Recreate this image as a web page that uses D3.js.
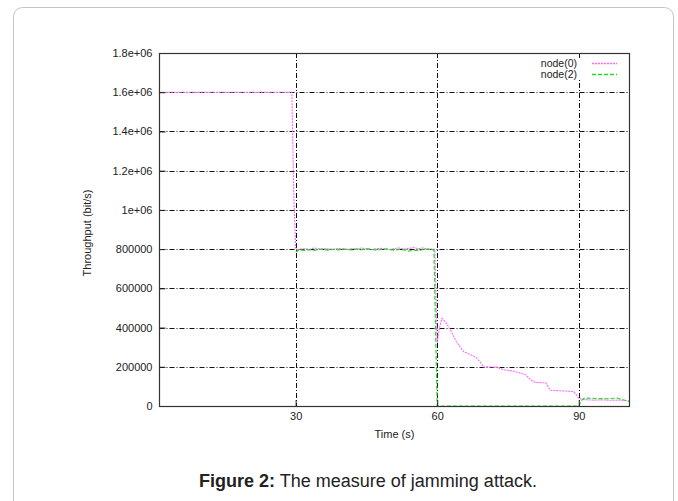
<!DOCTYPE html>
<html>
<head>
<meta charset="utf-8">
<script src="https://cdn.jsdelivr.net/npm/d3@7"></script>
<style>
  body { margin: 0; background: #fff; }
  svg { display: block; }
  text { font-family: "Liberation Sans", Arial, sans-serif; }
</style>
</head>
<body>
<svg id="chart" width="678" height="501"></svg>
<script>
// ---- data ----
const yTicks = [0, 200000, 400000, 600000, 800000, 1000000, 1200000, 1400000, 1600000, 1800000];
const yTickLabels = ["0", "200000", "400000", "600000", "800000", "1e+06", "1.2e+06", "1.4e+06", "1.6e+06", "1.8e+06"];
const xTicks = [30, 60, 90];
const seriesNames = ["node(0)", "node(2)"];

const node0Time = [1, 29.2, 29.6, 30, 30.5, 31, 32, 33, 34, 35, 36, 37, 38, 39, 40, 41, 42, 43, 44, 45, 46, 47, 48, 49, 50, 51, 52, 53, 54, 55, 56, 57, 58, 59, 59.5, 60, 60.5, 61, 62, 62.8, 64, 65.6, 67, 68.1, 69, 69.8, 72.7, 74, 76.2, 77, 78.7, 80, 80.8, 83, 84, 86, 89, 90, 91, 93, 95, 97, 99, 100.7];
const node0Value = [1600000, 1600000, 1085000, 805000, 798000, 800000, 802000, 799000, 806000, 800000, 803000, 801000, 799000, 804000, 800000, 798000, 803000, 801000, 806000, 800000, 797000, 802000, 804000, 800000, 798000, 803000, 806000, 800000, 804000, 808000, 802000, 806000, 800000, 801000, 798000, 321000, 400000, 447000, 420000, 388000, 330000, 277000, 262000, 250000, 228000, 200000, 198000, 185000, 178000, 172000, 160000, 130000, 120000, 118000, 80000, 78000, 73000, 39000, 33000, 30000, 31000, 29000, 30000, 25000];

const node2Time = [30, 30.5, 31, 32, 33, 34, 35, 36, 37, 38, 39, 40, 41, 42, 43, 44, 45, 46, 47, 48, 49, 50, 51, 52, 53, 54, 55, 56, 57, 58, 59, 59.3, 60, 90, 90.5, 91, 92, 94, 96, 98, 99, 100.7];
const node2Value = [785000, 792000, 795000, 793000, 797000, 794000, 800000, 797000, 795000, 799000, 796000, 801000, 798000, 796000, 800000, 797000, 802000, 799000, 795000, 798000, 801000, 797000, 794000, 799000, 796000, 790000, 795000, 792000, 798000, 800000, 797000, 795000, 0, 0, 25000, 38000, 40000, 38000, 37000, 40000, 35000, 22000];

// ---- layout ----
const svg = d3.select("#chart");
const pLeft = 159.5, pRight = 629.5, pTop = 53, pBottom = 406;

svg.append("rect").attr("width", 678).attr("height", 501).attr("fill", "#fff");
svg.append("rect")
  .attr("x", 13.5).attr("y", 7.5).attr("width", 660).attr("height", 540)
  .attr("rx", 9).attr("fill", "#fff").attr("stroke", "#c4c4c4").attr("stroke-width", 1);

const x = d3.scaleLinear().domain([1.15, 100.75]).range([pLeft, pRight]);
const y = d3.scaleLinear().domain([0, 1800000]).range([pBottom, pTop]);

const g = svg.append("g");

// grid lines (dash-dot)
const gridDash = "5,2,1,2";
g.selectAll(".hgrid").data(yTicks.slice(1, -1)).join("line")
  .attr("x1", pLeft).attr("x2", pRight)
  .attr("y1", d => Math.round(y(d)) + 0.5).attr("y2", d => Math.round(y(d)) + 0.5)
  .attr("stroke", "#111").attr("stroke-width", 1).attr("stroke-dasharray", gridDash);
g.selectAll(".vgrid").data(xTicks).join("line")
  .attr("y1", pTop).attr("y2", pBottom)
  .attr("x1", d => Math.round(x(d)) + 0.5).attr("x2", d => Math.round(x(d)) + 0.5)
  .attr("stroke", "#111").attr("stroke-width", 1).attr("stroke-dasharray", gridDash);

// series
const line = d3.line().x(d => x(d[0])).y(d => y(d[1]));
const d0 = node0Time.map((t, i) => [t, node0Value[i]]);
const d2 = node2Time.map((t, i) => [t, node2Value[i]]);

g.append("path").datum(d0).attr("d", line)
  .attr("fill", "none").attr("stroke", "#ff66ff").attr("stroke-width", 1.1)
  .attr("stroke-dasharray", "2,1");
g.append("path").datum(d2).attr("d", line)
  .attr("fill", "none").attr("stroke", "#22dd22").attr("stroke-width", 1.2)
  .attr("stroke-dasharray", "4,2");

// axes (inner ticks + labels) via d3 axes
const yAxis = d3.axisLeft(y).tickValues(yTicks).tickFormat((d, i) => yTickLabels[i]).tickSizeInner(-6).tickSizeOuter(0).tickPadding(7);
const yAx = svg.append("g").attr("transform", `translate(${pLeft},0)`).call(yAxis);
yAx.select(".domain").remove();
yAx.selectAll("line").attr("stroke", "#222");
yAx.selectAll("text").attr("font-size", 11).attr("fill", "#222").attr("font-family", "Liberation Sans, Arial, sans-serif");

const xAxis = d3.axisBottom(x).tickValues(xTicks).tickSizeInner(-6).tickSizeOuter(0).tickPadding(6);
const xAx = svg.append("g").attr("transform", `translate(0,${pBottom})`).call(xAxis);
xAx.select(".domain").remove();
xAx.selectAll("line").attr("stroke", "#222");
xAx.selectAll("text").attr("font-size", 11).attr("fill", "#222").attr("font-family", "Liberation Sans, Arial, sans-serif");

// border
svg.append("rect").attr("x", pLeft).attr("y", pTop + 0.5).attr("width", pRight - pLeft).attr("height", pBottom - pTop)
  .attr("fill", "none").attr("stroke", "#333").attr("stroke-width", 1.2);

// axis labels
svg.append("text").attr("x", (pLeft + pRight) / 2).attr("y", 438)
  .attr("text-anchor", "middle").attr("font-size", 11).attr("fill", "#222").text("Time (s)");
svg.append("text").attr("transform", `translate(91,233) rotate(-90)`)
  .attr("text-anchor", "middle").attr("font-size", 11).attr("fill", "#222").text("Throughput (bit/s)");

// legend
const legendColors = ["#ff66ff", "#22dd22"];
const legendDash = ["2,1", "4,2"];
const lg = svg.append("g");
seriesNames.forEach((name, i) => {
  const ly = 63 + i * 11;
  lg.append("rect").attr("x", 538).attr("y", ly - 5).attr("width", 42).attr("height", 10).attr("fill", "#fff");
  lg.append("text").attr("x", 577).attr("y", ly).attr("dy", "0.35em").attr("text-anchor", "end")
    .attr("font-size", 10.5).attr("fill", "#222").text(name);
  lg.append("line").attr("x1", 592).attr("x2", 617).attr("y1", ly + 0.5).attr("y2", ly + 0.5)
    .attr("stroke", legendColors[i]).attr("stroke-width", 1.3).attr("stroke-dasharray", legendDash[i]);
});

// caption
const cap = svg.append("text").attr("x", 368).attr("y", 487).attr("text-anchor", "middle")
  .attr("font-size", 18).attr("fill", "#222");
cap.append("tspan").attr("font-weight", "bold").text("Figure 2:");
cap.append("tspan").text(" The measure of jamming attack.");
</script>
</body>
</html>
